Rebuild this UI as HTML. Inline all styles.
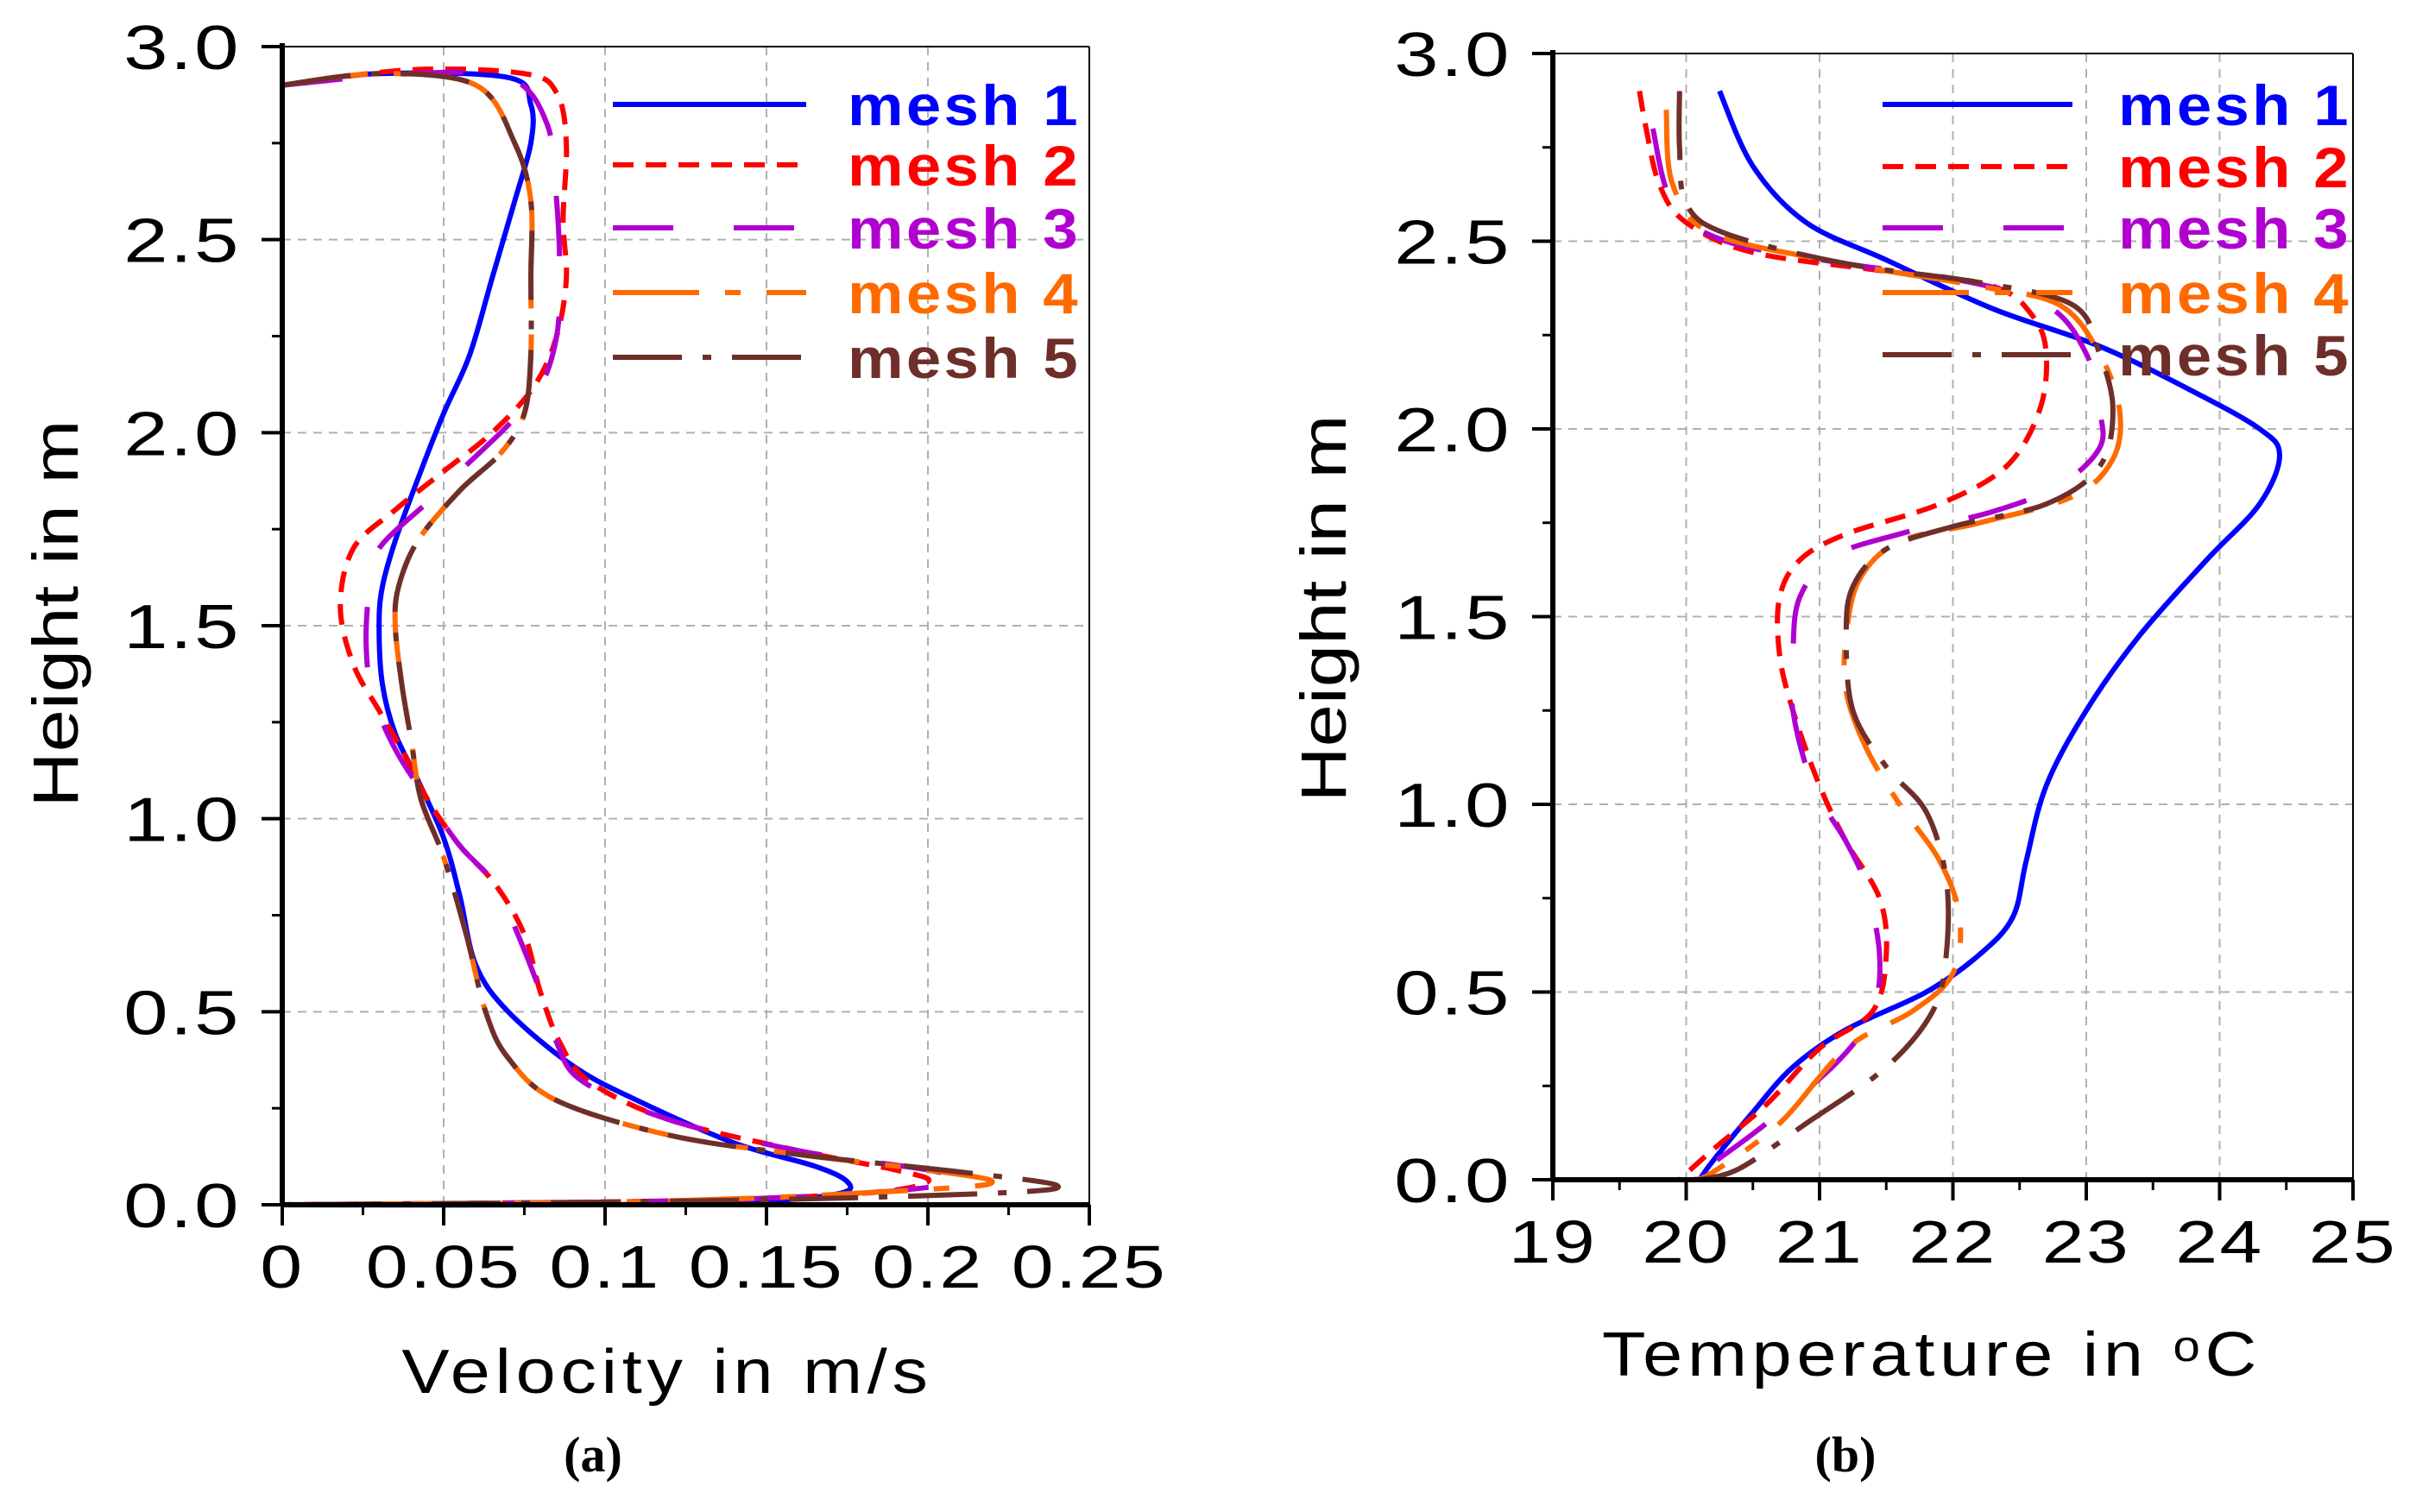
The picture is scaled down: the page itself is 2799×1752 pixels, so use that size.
<!DOCTYPE html>
<html><head><meta charset="utf-8"><style>
body{margin:0;background:#fff;}
svg{display:block;font-family:"Liberation Sans",sans-serif;}
</style></head><body>
<svg id="chart" width="2799" height="1752" viewBox="0 0 2799 1752" xmlns="http://www.w3.org/2000/svg"></svg>
<script>
// ---- Panel (a) velocity data ----
const meshNames = ["mesh 1","mesh 2","mesh 3","mesh 4","mesh 5"];
const velX1 = [0,0.03,0.07,0.077,0.077,0.072,0.065,0.058,0.05,0.042,0.035,0.031,0.030,0.031,0.035,0.042,0.05,0.055,0.06,0.07,0.09,0.11,0.14,0.165,0.175,0.173,0.15,0.1,0];
const velY1 = [2.9,2.93,2.92,2.85,2.75,2.6,2.4,2.2,2.05,1.88,1.72,1.6,1.5,1.35,1.22,1.1,0.95,0.8,0.62,0.5,0.36,0.27,0.16,0.1,0.06,0.03,0.01,0.0,0];
const velX2 = [0,0.04,0.075,0.085,0.088,0.087,0.088,0.085,0.078,0.065,0.05,0.035,0.022,0.018,0.022,0.03,0.037,0.045,0.055,0.066,0.075,0.08,0.086,0.095,0.12,0.16,0.19,0.2,0.18,0.12,0];
const velY2 = [2.9,2.94,2.93,2.88,2.75,2.55,2.4,2.25,2.12,2.0,1.9,1.8,1.7,1.55,1.4,1.28,1.18,1.05,0.93,0.83,0.7,0.55,0.42,0.32,0.22,0.14,0.09,0.06,0.03,0.01,0];
const velX3 = [0,0.04,0.07,0.082,0.085,0.086,0.085,0.08,0.07,0.055,0.045,0.03,0.027,0.026,0.028,0.035,0.045,0.055,0.066,0.073,0.08,0.085,0.093,0.12,0.16,0.2,0.21,0.18,0.12,0];
const velY3 = [2.9,2.93,2.92,2.8,2.6,2.4,2.25,2.12,2.02,1.9,1.82,1.7,1.6,1.45,1.32,1.18,1.05,0.93,0.83,0.7,0.55,0.42,0.32,0.22,0.14,0.09,0.06,0.03,0.01,0];
const velX4 = [0,0.03,0.06,0.072,0.077,0.077,0.077,0.075,0.068,0.055,0.042,0.036,0.035,0.037,0.04,0.043,0.05,0.057,0.063,0.07,0.085,0.12,0.16,0.2,0.22,0.2,0.12,0];
const velY4 = [2.9,2.93,2.9,2.75,2.6,2.4,2.2,2.05,1.95,1.85,1.72,1.6,1.5,1.35,1.2,1.05,0.9,0.7,0.5,0.38,0.27,0.18,0.13,0.09,0.06,0.04,0.01,0];
const velX5 = [0,0.03,0.06,0.072,0.077,0.077,0.077,0.075,0.068,0.055,0.042,0.036,0.035,0.037,0.04,0.043,0.05,0.057,0.063,0.07,0.085,0.12,0.16,0.21,0.24,0.22,0.13,0];
const velY5 = [2.9,2.93,2.9,2.75,2.6,2.4,2.2,2.05,1.95,1.85,1.72,1.6,1.5,1.35,1.2,1.05,0.9,0.7,0.5,0.38,0.27,0.18,0.13,0.085,0.05,0.03,0.01,0];
const velTicks = ["0","0.05","0.1","0.15","0.2","0.25"];
const heightTicks = ["0.0","0.5","1.0","1.5","2.0","2.5","3.0"];
// ---- Panel (b) temperature data ----
const tX1 = [20.25,20.5,20.9,21.5,22.3,23.1,23.8,24.3,24.45,24.3,23.9,23.4,23.0,22.7,22.55,22.45,22.2,21.8,21.2,20.8,20.5,20.2,20.1];
const tY1 = [2.9,2.7,2.55,2.45,2.32,2.22,2.1,2.0,1.93,1.8,1.65,1.45,1.25,1.05,0.85,0.7,0.6,0.5,0.4,0.3,0.18,0.05,0];
const tX2 = [19.65,19.7,19.8,20.0,20.5,21.5,22.3,22.6,22.7,22.65,22.4,21.9,21.2,20.85,20.7,20.7,20.8,21.0,21.2,21.45,21.5,21.4,21.0,20.6,20.2,19.95];
const tY2 = [2.9,2.8,2.65,2.55,2.47,2.42,2.38,2.3,2.2,2.05,1.9,1.8,1.72,1.65,1.55,1.4,1.25,1.05,0.9,0.75,0.6,0.45,0.35,0.2,0.08,0];
const tX3 = [19.75,19.9,20.3,21.2,22.0,22.7,23.0,23.1,23.1,22.8,22.3,21.6,21.1,20.85,20.8,20.8,20.95,21.2,21.35,21.45,21.4,21.15,20.6,20.1,20.0];
const tY3 = [2.8,2.6,2.5,2.44,2.4,2.33,2.2,2.05,1.95,1.85,1.78,1.72,1.66,1.55,1.4,1.25,1.05,0.9,0.78,0.6,0.45,0.32,0.15,0.02,0];
const tX4 = [19.85,19.9,20.2,21.2,22.2,22.8,23.1,23.25,23.2,22.9,22.2,21.6,21.3,21.2,21.2,21.35,21.6,21.9,22.05,22.0,21.7,21.2,20.7,20.2,20.05];
const tY4 = [2.85,2.65,2.52,2.44,2.38,2.33,2.2,2.05,1.92,1.82,1.75,1.7,1.6,1.45,1.3,1.15,1.0,0.85,0.7,0.55,0.45,0.35,0.15,0.02,0];
const tX5 = [19.95,19.95,20.0,20.3,21.2,22.2,22.9,23.1,23.2,23.1,22.7,22.0,21.5,21.25,21.2,21.25,21.5,21.8,21.95,21.95,21.85,21.5,20.9,20.4,20.1];
const tY5 = [2.9,2.75,2.6,2.52,2.44,2.39,2.33,2.2,2.05,1.9,1.8,1.74,1.68,1.58,1.45,1.25,1.1,0.98,0.8,0.6,0.45,0.3,0.15,0.03,0];
const tempTicks = ["19","20","21","22","23","24","25"];

const NS="http://www.w3.org/2000/svg";
const svg=document.getElementById('chart');
function mk(tag,attrs,parent){const e=document.createElementNS(NS,tag);for(const k in attrs)e.setAttribute(k,attrs[k]);(parent||svg).appendChild(e);return e;}
const colors=["#0000ff","#ff0000","#b000d0","#ff6a00","#6e2f2a"];
const dashes=["none","24,14","70,70","100,30,18,30","80,24,10,24"];
function smoothPath(pts){let d=`M${pts[0][0]},${pts[0][1]}`;for(let i=0;i<pts.length-1;i++){const p0=pts[Math.max(0,i-1)],p1=pts[i],p2=pts[i+1],p3=pts[Math.min(pts.length-1,i+2)];const c1=[p1[0]+(p2[0]-p0[0])/6,p1[1]+(p2[1]-p0[1])/6],c2=[p2[0]-(p3[0]-p1[0])/6,p2[1]-(p3[1]-p1[1])/6];d+=` C${c1[0].toFixed(1)},${c1[1].toFixed(1)} ${c2[0].toFixed(1)},${c2[1].toFixed(1)} ${p2[0].toFixed(1)},${p2[1].toFixed(1)}`;}return d;}
function wtext(parent,x,y,str,size,sx,anchor,extra){const g=mk('g',{transform:`translate(${x},${y}) scale(${sx},1)`},parent);const a={x:0,y:0,'text-anchor':anchor,'font-size':size};for(const k in (extra||{}))a[k]=extra[k];const t=mk('text',a,g);t.textContent=str;return t;}

function panel(o){
  const g=mk('g',{});
  
  
  const xs=v=>o.L+(v-o.xmin)/(o.xmax-o.xmin)*(o.R-o.L);
  const ys=v=>o.B-v/3*(o.B-o.T);
  o.xTicks.forEach((t,i)=>{const x=xs(parseFloat(t));if(i>0&&i<o.xTicks.length-1){const l=mk('line',{x1:x,x2:x,y1:o.T,y2:o.B,stroke:'#b0b0b0','stroke-width':2,'stroke-dasharray':'10,8'},g);}});
  heightTicks.forEach((t,i)=>{const y=ys(parseFloat(t));if(i>0&&i<heightTicks.length-1){const l=mk('line',{x1:o.L,x2:o.R,y1:y,y2:y,stroke:'#b0b0b0','stroke-width':2,'stroke-dasharray':'10,8'},g);}});
  mk('line',{x1:o.L,x2:o.R,y1:o.T,y2:o.T,stroke:'#000','stroke-width':2},g);
  mk('line',{x1:o.R,x2:o.R,y1:o.T,y2:o.B,stroke:'#000','stroke-width':2},g);
  o.series.forEach((s,i)=>{const pts=s[0].map((v,j)=>[xs(v),ys(s[1][j])]);const p=mk('path',{d:smoothPath(pts),fill:'none',stroke:colors[i],'stroke-width':6,'stroke-dasharray':dashes[i],'stroke-linejoin':'round'},g);});
  const ax=mk('line',{x1:o.L,x2:o.L,y1:o.T-4,y2:o.B+2,stroke:'#000','stroke-width':6},g);
  
  const bx=mk('line',{x1:o.L-2,x2:o.R,y1:o.B,y2:o.B,stroke:'#000','stroke-width':6},g);
  
  heightTicks.forEach((t,i)=>{const y=ys(parseFloat(t));mk('line',{x1:o.L-24,x2:o.L,y1:y,y2:y,stroke:'#000','stroke-width':4},g);if(i<heightTicks.length-1){const ym=ys(parseFloat(t)+0.25);mk('line',{x1:o.L-12,x2:o.L,y1:ym,y2:ym,stroke:'#000','stroke-width':3},g);}
    const tx=wtext(g,o.L-48,y+26,t,72,1.28,'end',{'letter-spacing':2});});
  o.xTicks.forEach((t,i)=>{const v=parseFloat(t),x=xs(v);mk('line',{x1:x,x2:x,y1:o.B,y2:o.B+24,stroke:'#000','stroke-width':4},g);if(i<o.xTicks.length-1){const step=parseFloat(o.xTicks[1])-parseFloat(o.xTicks[0]);const xm=xs(v+step/2);mk('line',{x1:xm,x2:xm,y1:o.B,y2:o.B+12,stroke:'#000','stroke-width':3},g);}
    const tx=wtext(g,x,o.B+96,t,70,1.25,'middle',{'letter-spacing':2});});
  const xt=wtext(g,o.xtx,o.xty,o.xtitle,72,1.15,'middle',{'letter-spacing':5});
  const yg=mk('g',{transform:`translate(${o.ytx},${o.yty}) rotate(-90) scale(1.2,1)`},g);
  const yt=mk('text',{x:0,y:0,'text-anchor':'middle','font-size':74},yg);yt.textContent='Height in m';
  const cap=mk('text',{x:o.capx,y:1705,'text-anchor':'middle','font-size':58,'font-weight':'bold','font-family':'"Liberation Serif",serif'},g);cap.textContent=o.cap;
  meshNames.forEach((n,i)=>{const y=o.legY[i];const lg=mk('g',{},g);
    mk('line',{x1:o.legX1,x2:o.legX2,y1:y,y2:y,stroke:colors[i],'stroke-width':6,'stroke-dasharray':dashes[i]},lg);
    wtext(lg,o.legT,y+24,n,66,1.1,'start',{'font-weight':'bold',fill:colors[i],'letter-spacing':3});});
}
panel({name:'velocity-panel',L:327,R:1262,T:54,B:1396,xmin:0,xmax:0.25,xTicks:velTicks,
  series:[[velX1,velY1],[velX2,velY2],[velX3,velY3],[velX4,velY4],[velX5,velY5]],
  xtitle:'Velocity in m/s',xtx:773,xty:1614,ytx:90,yty:711,cap:'(a)',capx:687,
  legY:[121,191,264,339,414],legX1:710,legX2:934,legT:982});
panel({name:'temperature-panel',L:1799,R:2726,T:62,B:1367,xmin:19,xmax:25,xTicks:tempTicks,
  series:[[tX1,tY1],[tX2,tY2],[tX3,tY3],[tX4,tY4],[tX5,tY5]],
  xtitle:'Temperature in \u1d52C',xtx:2238,xty:1594,ytx:1559,yty:705,cap:'(b)',capx:2138,
  legY:[121,193,264,339,411],legX1:2181,legX2:2401,legT:2454});
</script>
</body></html>
